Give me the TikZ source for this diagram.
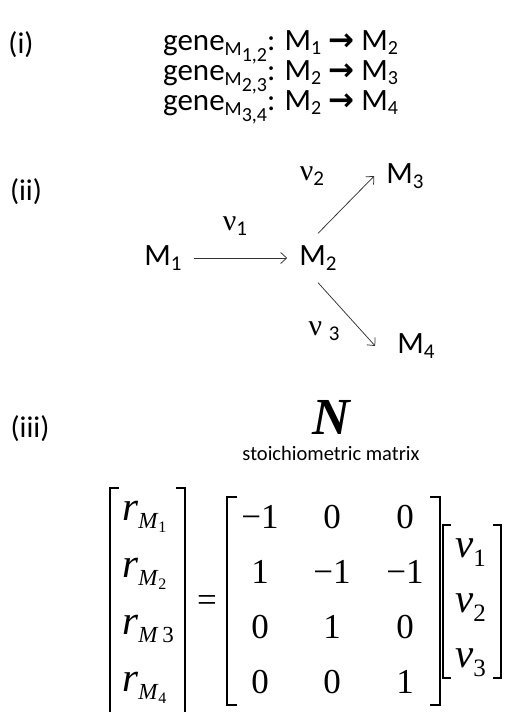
\documentclass[tikz,border=0pt]{standalone}
\usepackage{fontspec}
\setmainfont{Carlito}
\newfontfamily\serifnum{Liberation Serif}
\newfontfamily\arrowfont{DejaVu Sans}
\usetikzlibrary{arrows.meta,positioning}

\newcommand{\fs}[1]{\fontsize{#1}{#1}\selectfont}
% subscripts for the gene list and the network
\newcommand{\lsub}[1]{\raisebox{-4pt}{\fs{20}#1}}
\newcommand{\gsub}[1]{\raisebox{-5pt}{\fs{20}M\raisebox{-6pt}{#1}}}
\newcommand{\msub}[1]{\raisebox{-5pt}{\fs{21}#1}}
% entries of the matrix equation
\newcommand{\rM}[1]{\textit{r}\raisebox{-8pt}{\fs{23}\textit{M}\raisebox{-4pt}{\fs{16}#1}}}
\newcommand{\rMflat}[1]{\textit{r}\raisebox{-8pt}{\fs{23}\textit{M}\,#1}}
\newcommand{\vsub}[1]{\textit{v}\raisebox{-9pt}{\fs{25}#1}}

\begin{document}
\begin{tikzpicture}[x=1pt, y=-1pt, >={Straight Barb[length=6pt,width=11pt]}]
        \tikzstyle{tag}=[font=\fs{30}, inner sep=0pt]
        \tikzstyle{genline}=[font=\fs{31}, anchor=base west, inner sep=0pt]
        \tikzstyle{metab}=[font=\fs{31}, inner sep=12pt]
        \tikzstyle{rate}=[font=\fs{30}, inner sep=0pt]
        \tikzstyle{flux}=[draw=black!80, line width=0.75pt, ->]
        \tikzstyle{entry}=[font=\serifnum\fs{35}, inner sep=0pt, anchor=base]
        \tikzstyle{vecentry}=[font=\serifnum\fs{41}, inner sep=0pt, anchor=base west]
        \tikzstyle{brk}=[line width=1.5pt]
        \useasboundingbox (0,0) rectangle (506,712);

        % (i) genes
        \node[tag] (ti) at (21,45) {(i)};
        \node[genline] (g1) at (163,50) {gene\gsub{1,2}: M\lsub{1} {\arrowfont\bfseries →} M\lsub{2}};
        \node[genline] (g2) at (163,80) {gene\gsub{2,3}: M\lsub{2} {\arrowfont\bfseries →} M\lsub{3}};
        \node[genline] (g3) at (163,110) {gene\gsub{3,4}: M\lsub{2} {\arrowfont\bfseries →} M\lsub{4}};

        % (ii) network
        \node[tag] (tii) at (26,192) {(ii)};
        \node[metab] (m1) at (163,258) {M\msub{1}};
        \node[metab] (m2) at (318,258) {M\msub{2}};
        \node[metab] (m3) at (405,176) {M\msub{3}};
        \node[metab] (m4) at (416,346) {M\msub{4}};
        \node[rate] (nu1) at (235,226) {{\serifnum ν}\msub{1}};
        \node[rate] (nu2) at (312,176) {{\serifnum ν}\msub{2}};
        \node[rate] (nu3) at (324,331) {{\serifnum ν} \msub{3}};
        \draw[flux] (m1) -- (m2);
        \draw[flux] (m2.north) -- (m3.west);
        \draw[flux] (m2.south) -- ([xshift=-10pt]m4.west);

        % (iii) matrix form
        \node[tag] (tiii) at (30,429) {(iii)};
        \node[font=\serifnum\bfseries\itshape\fs{52}, inner sep=0pt] (N) at (331,417) {N};
        \node[font=\fs{20.5}, inner sep=0pt, below=12pt of N] (Nlab) {stoichiometric matrix};

        \foreach \e [count=\i] in {\rM{1},\rM{2},\rMflat{3},\rM{4}} {
            \node[vecentry] (r\i) at (122,463+57*\i) {\e};
        }
        \node[entry] (eq) at (207,611) {=};
        \foreach \a/\b/\c [count=\i] in {−1/0/0, 1/−1/−1, 0/1/0, 0/0/1} {
            \node[entry] (a\i1) at (260,473+55*\i) {\a};
            \node[entry] (a\i2) at (332,473+55*\i) {\b};
            \node[entry] (a\i3) at (405,473+55*\i) {\c};
        }
        \foreach \i in {1,2,3} {
            \node[vecentry] (v\i) at (455,502+55*\i) {\vsub{\i}};
        }

        % brackets
        \draw[brk] (119,488) -- (110,488) -- (110,712);
        \draw[brk] (176,488) -- (185,488) -- (185,712);
        \draw[brk] (237,497) -- (227,497) -- (227,705) -- (237,705);
        \draw[brk] (430,497) -- (440,497) -- (440,705) -- (430,705);
        \draw[brk] (451,525) -- (443,525) -- (443,678) -- (451,678);
        \draw[brk] (493,525) -- (501,525) -- (501,678) -- (493,678);
    \end{tikzpicture}
\end{document}
